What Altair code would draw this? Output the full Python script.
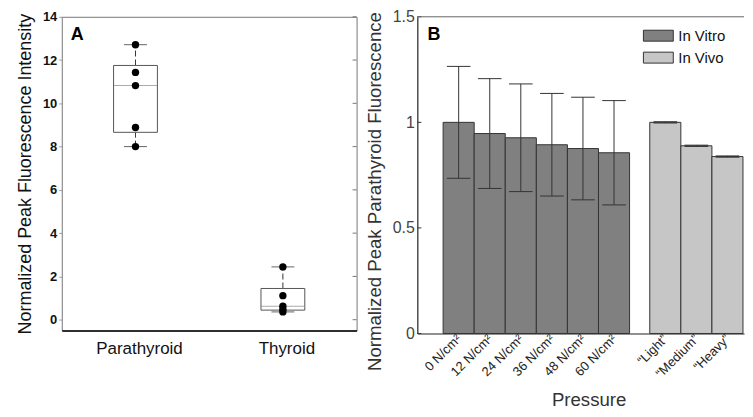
import altair as alt
import numpy as np
import pandas as pd

FONT = "Liberation Sans"

# ---------------- Panel A data ----------------
groups_a = ["Parathyroid", "Thyroid"]
parathyroid_vals = [12.71, 11.43, 10.82, 8.88, 8.0]
thyroid_vals = [2.44, 1.11, 0.62, 0.47, 0.36]
a_ticks = [0, 2, 4, 6, 8, 10, 12, 14]
a_title = "Normalized Peak Fluorescence Intensity"

# ---------------- Panel B data ----------------
b_labels = ["0 N/cm²", "12 N/cm²", "24 N/cm²", "36 N/cm²", "48 N/cm²", "60 N/cm²",
            "“Light”", "“Medium”", "“Heavy”"]
b_pos = [1, 2, 3, 4, 5, 6, 7.65, 8.65, 9.65]
b_group = ["In Vitro"] * 6 + ["In Vivo"] * 3
b_values = [1.0, 0.947, 0.927, 0.894, 0.876, 0.856, 1.0, 0.889, 0.838]
b_errors = [0.265, 0.26, 0.255, 0.243, 0.243, 0.247, 0.003, 0.003, 0.003]
b_ticks = [0, 0.5, 1, 1.5]
b_title = "Normalized Peak Parathyroid Fluorescence"

# ---------------- Panel A ----------------
WA, HA = 296, 315
pts = pd.DataFrame({
    "group": ["Parathyroid"] * len(parathyroid_vals) + ["Thyroid"] * len(thyroid_vals),
    "value": parathyroid_vals + thyroid_vals,
})
rows = []
for g, vals in zip(groups_a, [parathyroid_vals, thyroid_vals]):
    q1, med, q3 = np.percentile(vals, [25, 50, 75], method="hazen")
    rows.append({"group": g, "q1": q1, "med": med, "q3": q3, "lo": min(vals), "hi": max(vals)})
box = pd.DataFrame(rows)

xa = alt.X("group:N", scale=alt.Scale(domain=groups_a, paddingInner=0, paddingOuter=0),
           axis=alt.Axis(title=None, labelAngle=0, ticks=False, labelFontSize=17, labelColor="#111",
                         labelPadding=10, labelOffset=4, domainColor="#000", domainWidth=1.6,
                         grid=False, labelFont=FONT))
ya_scale = alt.Scale(domain=[-0.5, 14], nice=False, zero=False)
ya_axis = alt.Axis(title=a_title, values=a_ticks, grid=False, domain=False, tickSize=3,
                   tickColor="#999", labelFontSize=13, labelFontWeight="bold", labelColor="#111",
                   labelPadding=2, titleFontSize=18, titleFontWeight="normal", titleColor="#111",
                   titlePadding=8, labelFont=FONT, titleFont=FONT)


def ya(field):
    return alt.Y(field, scale=ya_scale, axis=ya_axis, title=a_title)


base_box = alt.Chart(box)
upper_whisk = base_box.mark_rule(color="#333", strokeDash=[6, 3], strokeWidth=1).encode(
    x=xa, y=ya("q3:Q"), y2="hi:Q")
lower_whisk = base_box.mark_rule(color="#333", strokeDash=[6, 3], strokeWidth=1).encode(
    x=xa, y=ya("lo:Q"), y2="q1:Q")
box_rect = base_box.mark_bar(size=44, fill="white", stroke="#555", strokeWidth=1).encode(
    x=xa, y=ya("q1:Q"), y2="q3:Q")
median = base_box.mark_tick(size=44, thickness=1, color="#888").encode(x=xa, y=ya("med:Q"))
cap_lo = base_box.mark_tick(size=23, thickness=1, color="#222").encode(x=xa, y=ya("lo:Q"))
cap_hi = base_box.mark_tick(size=23, thickness=1, color="#222").encode(x=xa, y=ya("hi:Q"))
dots = alt.Chart(pts).mark_circle(size=55, color="#000", opacity=1).encode(x=xa, y=ya("value:Q"))
right_ticks = alt.Chart(pd.DataFrame({"t": a_ticks})).mark_rule(color="#777").encode(
    y=ya("t:Q"), x=alt.value(WA - 4), x2=alt.value(WA))
label_a = alt.Chart(pd.DataFrame({"t": ["A"]})).mark_text(
    font=FONT, fontSize=18, fontWeight="bold", color="#000", align="center", baseline="alphabetic"
).encode(text="t:N", x=alt.value(15.5), y=alt.value(23.5))

panel_a = alt.layer(upper_whisk, lower_whisk, box_rect, median, cap_lo, cap_hi, dots,
                    right_ticks, label_a).properties(
    width=WA, height=HA, view=alt.ViewBackground(stroke="#777", strokeWidth=1))

# ---------------- Panel B ----------------
WB, HB = 328, 318
bdf = pd.DataFrame({"label": b_labels, "pos": b_pos, "group": b_group,
                    "value": b_values, "err": b_errors})

label_expr = " : ".join(
    f"datum.value == {p} ? '{l}'" for p, l in zip(b_pos, b_labels)) + " : ''"
span = WB / 31.2
xb_scale = alt.Scale(domain=[-0.33, -0.33 + span], nice=False, zero=False)
xb_axis = alt.Axis(title="Pressure", values=b_pos, labelExpr=label_expr, labelAngle=-45,
                   labelAlign="right", labelBaseline="middle", labelFontSize=13,
                   labelColor="#222", labelPadding=3, labelOverlap=False, ticks=False,
                   grid=False, domainColor="#222", domainWidth=1.2, titleFontSize=18.7,
                   titleFontWeight="normal", titleColor="#333", titlePadding=11, titleX=172,
                   labelFont=FONT, titleFont=FONT)
yb_scale = alt.Scale(domain=[0, 1.5], nice=False, zero=True)
yb_axis = alt.Axis(title=b_title, values=b_ticks, format="~g", grid=False, ticks=False,
                   domainColor="#222", domainWidth=1.2, labelFontSize=16, labelColor="#444",
                   labelPadding=3, titleFontSize=18.7, titleFontWeight="normal",
                   titleColor="#333", titlePadding=8, titleY=175, labelFont=FONT, titleFont=FONT)


def xb(field):
    return alt.X(field, scale=xb_scale, axis=xb_axis, title="Pressure")


def yb(field):
    return alt.Y(field, scale=yb_scale, axis=yb_axis, title=b_title)


base_b = alt.Chart(bdf).transform_calculate(
    x0="datum.pos - 0.5", x1="datum.pos + 0.5", base="0",
    lo="datum.value - datum.err", hi="datum.value + datum.err",
    c0="datum.pos - 0.38", c1="datum.pos + 0.38")

bars = base_b.mark_bar(stroke="#333", strokeWidth=1, opacity=1).encode(
    x=xb("x0:Q"), x2="x1:Q", y=yb("value:Q"), y2="base:Q",
    color=alt.Color("group:N",
                    scale=alt.Scale(domain=["In Vitro", "In Vivo"], range=["#808080", "#c6c6c6"]),
                    legend=alt.Legend(orient="none", legendX=234, legendY=11, title=None,
                                      symbolType="M-2,-0.733H2V0.733H-2Z", symbolSize=225,
                                      symbolStrokeColor="#333", symbolStrokeWidth=1,
                                      symbolOpacity=1, labelFontSize=15, labelColor="#111",
                                      labelOffset=12, rowPadding=6, labelFont=FONT)))
err_v = base_b.mark_rule(color="#333", strokeWidth=1).encode(x=xb("pos:Q"), y=yb("lo:Q"), y2="hi:Q")
err_top = base_b.mark_rule(color="#333", strokeWidth=1).encode(x=xb("c0:Q"), x2="c1:Q", y=yb("hi:Q"))
err_bot = base_b.mark_rule(color="#333", strokeWidth=1).encode(x=xb("c0:Q"), x2="c1:Q", y=yb("lo:Q"))
left_ticks = alt.Chart(pd.DataFrame({"t": b_ticks})).mark_rule(color="#333").encode(
    y=yb("t:Q"), x=alt.value(0), x2=alt.value(4))
top_line = alt.Chart(pd.DataFrame({"t": [0]})).mark_rule(color="#666", strokeWidth=1).encode(
    x=alt.value(0), x2=alt.value(WB), y=alt.value(0))
label_b = alt.Chart(pd.DataFrame({"t": ["B"]})).mark_text(
    font=FONT, fontSize=18, fontWeight="bold", color="#000", align="center", baseline="alphabetic"
).encode(text="t:N", x=alt.value(16.7), y=alt.value(23.5))

panel_b = alt.layer(bars, err_v, err_top, err_bot, left_ticks, top_line, label_b).properties(
    width=WB, height=HB, view=alt.ViewBackground(stroke=None))

chart = alt.hconcat(panel_a, panel_b, spacing=61, bounds="flush").resolve_legend(
    color="independent").properties(
    padding={"left": 8, "top": 0, "right": 0, "bottom": 0}
).configure(font=FONT).configure_view(stroke=None)

chart.save("out.html", embed_options={"renderer": "svg", "actions": False})
